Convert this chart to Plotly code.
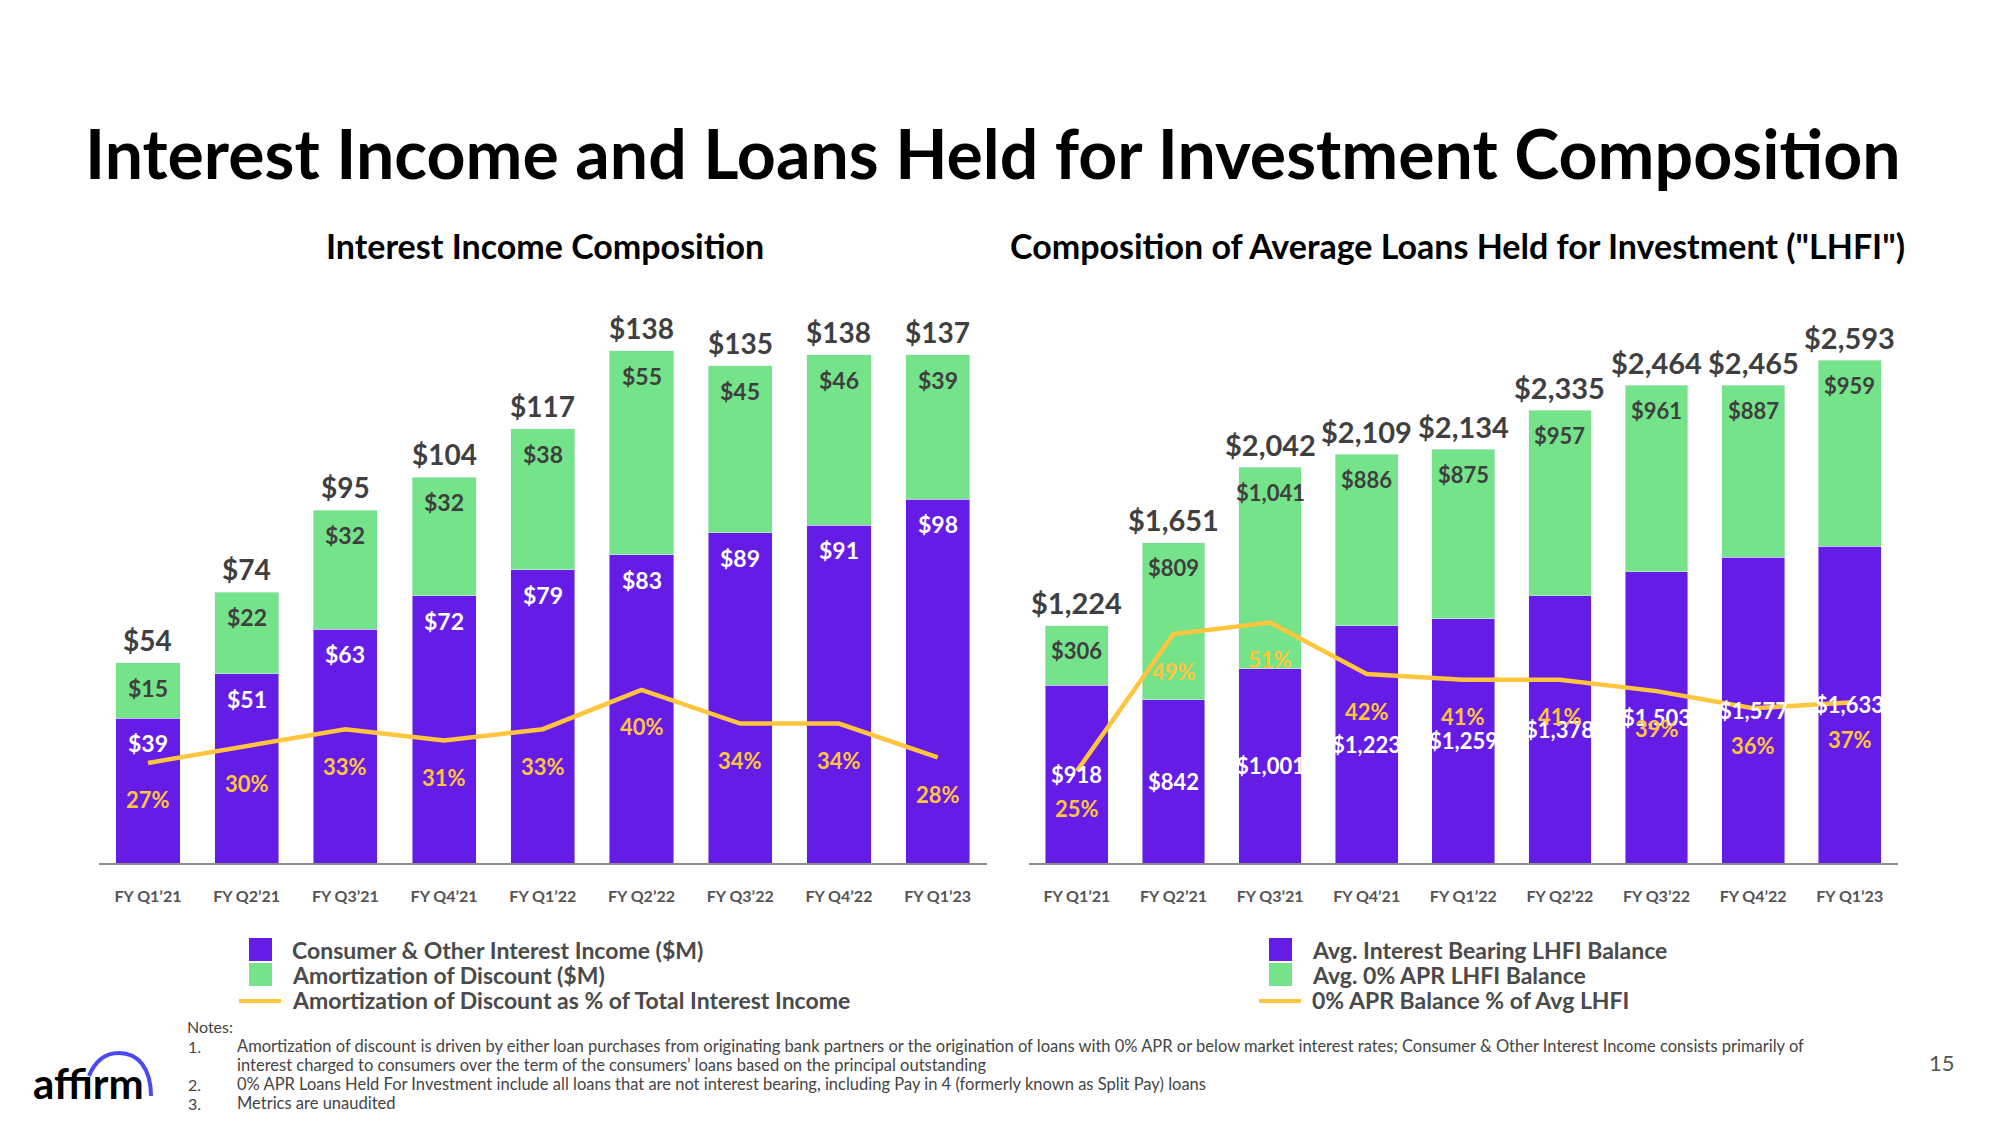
import plotly.graph_objects as go

# ---- data -------------------------------------------------------------
quarters = ["FY Q1’21", "FY Q2’21", "FY Q3’21", "FY Q4’21", "FY Q1’22",
            "FY Q2’22", "FY Q3’22", "FY Q4’22", "FY Q1’23"]

# Interest income composition ($M)
consumer_income = [39, 51, 63, 72, 79, 83, 89, 91, 98]
amortization = [15, 22, 32, 32, 38, 55, 45, 46, 39]
income_totals = [54, 74, 95, 104, 117, 138, 135, 138, 137]
amortization_pct = [27, 30, 33, 31, 33, 40, 34, 34, 28]

# Average LHFI composition ($M)
interest_bearing = [918, 842, 1001, 1223, 1259, 1378, 1503, 1577, 1633]
zero_apr = [306, 809, 1041, 886, 875, 957, 961, 887, 959]
lhfi_totals = [1224, 1651, 2042, 2109, 2134, 2335, 2464, 2465, 2593]
zero_apr_pct = [25, 49, 51, 42, 41, 41, 39, 36, 37]

left_names = ["Consumer & Other Interest Income ($M)", "Amortization of Discount ($M)",
              "Amortization of Discount as % of Total Interest Income"]
right_names = ["Avg. Interest Bearing LHFI Balance", "Avg. 0% APR LHFI Balance",
               "0% APR Balance % of Avg LHFI"]

notes = [
    ("1.", "Amortization of discount is driven by either loan purchases from originating bank partners or the origination of loans with 0% APR or below market interest rates; Consumer & Other Interest Income consists primarily of"),
    ("", "interest charged to consumers over the term of the consumers’ loans based on the principal outstanding"),
    ("2.", "0% APR Loans Held For Investment include all loans that are not interest bearing, including Pay in 4 (formerly known as Split Pay) loans"),
    ("3.", "Metrics are unaudited"),
]

PURPLE = "#641CE6"
GREEN = "#74E38A"
YELLOW = "#FFC53D"
DARK = "#3F3F3F"
FONT = "Lato"

W, H = 2000, 1125
OFF = 8  # page body margin of the html file


def px(x, y):
    """pixel position on the page -> paper coordinates"""
    return (x - OFF) / W, 1 - (y - OFF) / H


fig = go.Figure()

# ---- left chart -------------------------------------------------------
fig.add_trace(go.Bar(x=quarters, y=consumer_income, marker_color=PURPLE, width=0.65,
                     xaxis="x", yaxis="y", name=left_names[0]))
fig.add_trace(go.Bar(x=quarters, y=amortization, marker_color=GREEN, width=0.65,
                     xaxis="x", yaxis="y", name=left_names[1]))
fig.add_trace(go.Scatter(x=quarters, y=amortization_pct, mode="lines",
                         line=dict(color=YELLOW, width=4.5),
                         xaxis="x", yaxis="y3", name=left_names[2]))

# ---- right chart ------------------------------------------------------
fig.add_trace(go.Bar(x=quarters, y=interest_bearing, marker_color=PURPLE, width=0.65,
                     xaxis="x2", yaxis="y2", name=right_names[0]))
fig.add_trace(go.Bar(x=quarters, y=zero_apr, marker_color=GREEN, width=0.65,
                     xaxis="x2", yaxis="y2", name=right_names[1]))
fig.add_trace(go.Scatter(x=quarters, y=zero_apr_pct, mode="lines",
                         line=dict(color=YELLOW, width=4.5),
                         xaxis="x2", yaxis="y4", name=right_names[2]))

annotations = []


def label(x, y, text, xref, yref, color, size, yshift):
    annotations.append(dict(x=x, y=y, text=text, xref=xref, yref=yref, showarrow=False,
                            yshift=yshift, font=dict(family=FONT, size=size, color=color,
                                                     weight="bold")))


for i, q in enumerate(quarters):
    # left
    top = consumer_income[i] + amortization[i]
    label(q, top, f"${income_totals[i]}", "x", "y", DARK, 28, 23)
    label(q, top, f"${amortization[i]}", "x", "y", DARK, 23, -25)
    label(q, consumer_income[i], f"${consumer_income[i]}", "x", "y", "white", 23, -25)
    label(q, amortization_pct[i], f"{amortization_pct[i]}%", "x", "y3", YELLOW, 22, -37)
    # right
    top = interest_bearing[i] + zero_apr[i]
    label(q, top, f"${lhfi_totals[i]:,}", "x2", "y2", DARK, 29, 23)
    label(q, top, f"${zero_apr[i]:,}", "x2", "y2", DARK, 22, -25)
    label(q, interest_bearing[i] / 2, f"${interest_bearing[i]:,}", "x2", "y2", "white", 22, 0)
    label(q, zero_apr_pct[i], f"{zero_apr_pct[i]}%", "x2", "y4", YELLOW, 22, -37)


def text(x, y, s, size, color="#111111", weight="normal", xanchor="center"):
    xp, yp = px(x, y)
    annotations.append(dict(x=xp, y=yp, xref="paper", yref="paper", text=s, showarrow=False,
                            xanchor=xanchor, yanchor="middle",
                            font=dict(family=FONT, size=size, color=color, weight=weight)))


# titles
text(993, 153, "Interest Income and Loans Held for Investment Composition", 68, "#000000", "bold")
text(545, 245, "Interest Income Composition", 34, "#000000", "bold")
text(1457, 245, "Composition of Average Loans Held for Investment (\"LHFI\")", 34, "#000000", "bold")

# custom legends
shapes = []


def legend(x_sym, x_text, names):
    for row, (name, color) in enumerate(zip(names[:2], [PURPLE, GREEN])):
        x0, y0 = px(x_sym, 938 + row * 25)
        x1, y1 = px(x_sym + 23, 938 + row * 25 + 23)
        shapes.append(dict(type="rect", xref="paper", yref="paper", x0=x0, x1=x1, y0=y0, y1=y1,
                           fillcolor=color, line=dict(width=0)))
        text(x_text, 950 + row * 25, name, 23, "#4A4A4A", "bold", "left")
    x0, y0 = px(x_sym - 10, 1001)
    x1, _ = px(x_sym + 32, 1001)
    shapes.append(dict(type="line", xref="paper", yref="paper", x0=x0, x1=x1, y0=y0, y1=y0,
                       line=dict(color=YELLOW, width=4)))
    text(x_text, 1000, names[2], 23, "#4A4A4A", "bold", "left")


legend(249, 290, left_names)
legend(1269, 1310, right_names)

# notes
text(185, 1026, "Notes:", 16, "#444444", "normal", "left")
for i, (num, line) in enumerate(notes):
    y = 1046 + i * 19
    if num:
        text(186, y, num, 16, "#444444", "normal", "left")
    text(235, y, line, 16.5, "#444444", "normal", "left")

# page number
text(1942, 1062, "15", 22, "#555555", "normal")

# affirm logo
text(88, 1083, "affirm", 42, "#000000", "bold")
pts = [px(89, 1076), px(95, 1061), px(104, 1053), px(119, 1053),
       px(138, 1053), px(151, 1068), px(151, 1096)]
path = "M{:.5f},{:.5f} C{:.5f},{:.5f} {:.5f},{:.5f} {:.5f},{:.5f} C{:.5f},{:.5f} {:.5f},{:.5f} {:.5f},{:.5f}".format(
    *[c for p in pts for c in p])
shapes.append(dict(type="path", xref="paper", yref="paper", path=path,
                   line=dict(color="#4A4AF4", width=4)))

y_dom = [1 - (863 - OFF) / H, 1 - (280 - OFF) / H]
xaxis_common = dict(showline=True, linecolor="#8C8C8C", linewidth=2, ticks="",
                    showgrid=False, zeroline=False, range=[-0.5, 8.5],
                    ticklabelstandoff=18,
                    tickfont=dict(family=FONT, size=16, color="#555555", weight="bold"))
yaxis_common = dict(visible=False, showgrid=False, zeroline=False)

fig.update_layout(
    width=W, height=H,
    margin=dict(l=0, r=0, t=0, b=0),
    paper_bgcolor="white", plot_bgcolor="white",
    barmode="stack",
    showlegend=False,
    font=dict(family=FONT),
    xaxis=dict(domain=[(98.6 - OFF) / W, (987 - OFF) / W], anchor="y", **xaxis_common),
    xaxis2=dict(domain=[(1028.6 - OFF) / W, (1898 - OFF) / W], anchor="y2", **xaxis_common),
    yaxis=dict(domain=y_dom, anchor="x", range=[0, 157.1], **yaxis_common),
    yaxis2=dict(domain=y_dom, anchor="x2", range=[0, 3007], **yaxis_common),
    yaxis3=dict(overlaying="y", anchor="x", range=[9.2, 112.9], **yaxis_common),
    yaxis4=dict(overlaying="y2", anchor="x2", range=[8.9, 111.0], **yaxis_common),
    annotations=annotations,
    shapes=shapes,
)

fig.write_html("out.html")
